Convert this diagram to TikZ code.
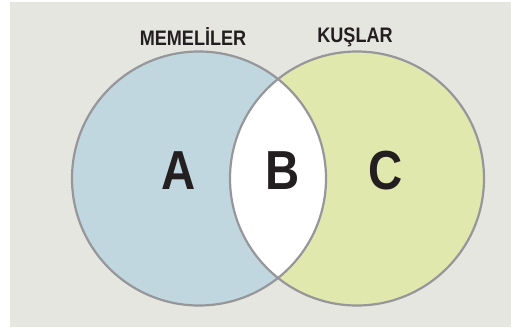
\documentclass[tikz,border=0pt]{standalone}
\usepackage{fontspec}
\setmainfont{Liberation Sans}[FakeStretch=0.86]
\usepackage{tikz}
\usetikzlibrary{positioning}
\definecolor{zemin}{RGB}{230,230,224}
\definecolor{mavi}{RGB}{192,215,223}
\definecolor{yesil}{RGB}{224,232,174}
\definecolor{cizgi}{RGB}{150,150,155}
\definecolor{yazi}{RGB}{35,31,32}
\tikzset{
  baslik/.style={text=yazi,font=\bfseries\fontsize{21}{22}\selectfont,inner sep=0pt},
  harf/.style={text=yazi,font=\bfseries\fontsize{55}{56}\selectfont,inner sep=0pt}
}

\begin{document}
\begin{tikzpicture}[x=1pt,y=-1pt]
    \useasboundingbox (0,0) rectangle (513,327);
    \fill[white] (0,0) rectangle (513,327);
    \fill[zemin] (10,2) rectangle (511,327);
    \fill[mavi] (199,178.5) circle (127);
    \fill[yesil] (357,178.5) circle (127);
    \begin{scope}
      \clip (199,178.5) circle (127);
      \fill[white] (357,178.5) circle (127);
    \end{scope}
    \draw[cizgi,line width=2.2pt] (199,178.5) circle (127);
    \draw[cizgi,line width=2.2pt] (357,178.5) circle (127);
    \node[baslik] (memeli) at (193,37) {MEMELİLER};
    \node[baslik] (kus) at (355,37) {KUŞLAR};
    \node[harf] (a) at (179,171) {A};
    \node[harf] (b) at (283,171) {B};
    \node[harf] (c) at (386,171) {C};
\end{tikzpicture}
\end{document}
